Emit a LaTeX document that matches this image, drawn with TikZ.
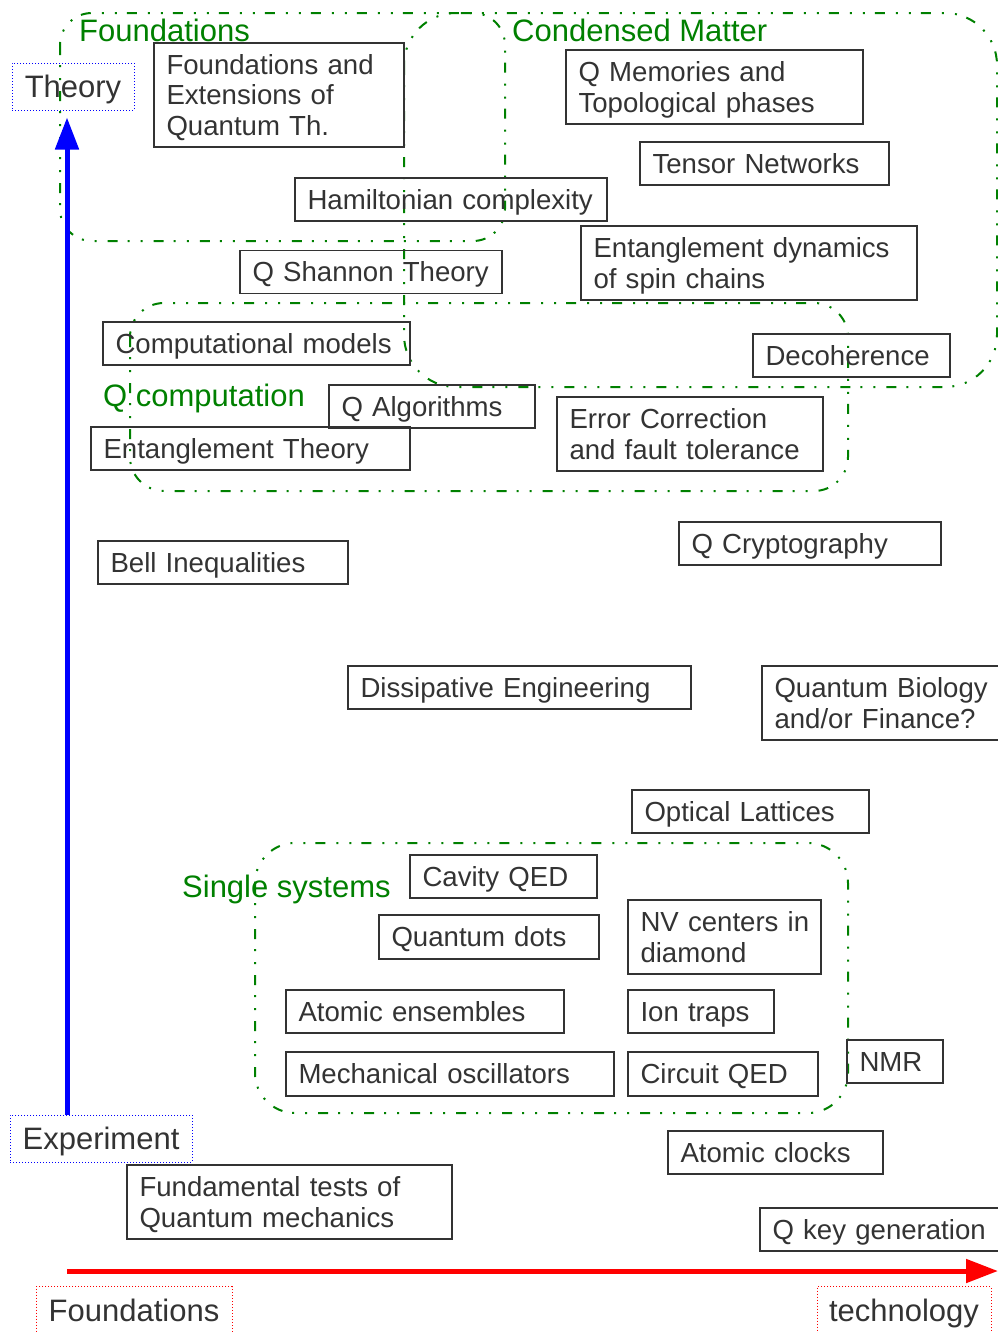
\documentclass[tikz,border=0pt]{standalone}
\usepackage{fontspec}
\setmainfont{Liberation Sans}
\usetikzlibrary{arrows.meta}

\definecolor{txtgray}{HTML}{333333}
\definecolor{grpgreen}{HTML}{008000}

\tikzset{
    box/.style={draw=txtgray, line width=1.2pt, text=txtgray, rectangle, align=left,
        text width=#1, inner xsep=12.5pt, inner ysep=0pt, minimum height=43pt,
        font=\fontsize{27.6pt}{30.7pt}\selectfont, text height=19.8pt, text depth=0pt},
    twolines/.style={minimum height=74pt, text depth=30.7pt},
    threelines/.style={minimum height=104pt, text depth=61.4pt},
    region/.style={draw=grpgreen, line width=2pt,
        dash pattern=on 10pt off 10pt on 2pt off 11pt on 2pt off 11pt},
    grplabel/.style={text=grpgreen, anchor=base west, inner sep=0pt,
        font=\fontsize{31pt}{34pt}\selectfont},
    axlabel/.style={text=txtgray, line width=1pt, dash pattern=on 1pt off 2pt,
        inner sep=0pt, minimum height=47pt, text height=22.2pt, text depth=0pt,
        font=\fontsize{31pt}{34pt}\selectfont},
    axarrow/.style={line width=5pt, -{Triangle[length=32pt,width=23pt]}}
}

\begin{document}
\begin{tikzpicture}[x=1pt, y=-1pt]
\path[use as bounding box, clip] (0,0) rectangle (998,1333);

\draw[region, rounded corners=32pt] (60,13) rectangle (505,241);
\draw[region, rounded corners=52pt] (404,13) rectangle (997,387);
\draw[region, rounded corners=34pt] (130,303) rectangle (848,491);
\draw[region, rounded corners=40pt] (255,843) rectangle (848,1113);

\node[grplabel] (lblfound) at (79,41) {Foundations};
\node[grplabel] (lblcond) at (512,41) {Condensed Matter};
\node[grplabel] (lblcomp) at (103,406) {Q computation};
\node[grplabel] (lblsingle) at (182,897) {Single systems};

\node[box=225pt, threelines] (found) at (279,95) {Foundations and\\Extensions of\\Quantum Th.};
\node[box=287pt] (hamil) at (451,199.5) {Hamiltonian complexity};
\node[box=237pt] (shannon) at (371,272) {Q Shannon Theory};
\node[box=272pt, twolines] (memories) at (714.5,87) {Q Memories and\\Topological phases};
\node[box=224pt] (tensor) at (764.5,163.5) {Tensor Networks};
\node[box=311pt, twolines] (entdyn) at (749,263) {Entanglement dynamics\\of spin chains};
\node[box=282pt] (compmod) at (256.5,343.5) {Computational models};
\node[box=172pt] (decoh) at (851.5,355.5) {Decoherence};
\node[box=181pt] (qalgo) at (432,406.5) {Q Algorithms};
\node[box=294pt] (entth) at (250.5,448.5) {Entanglement Theory};
\node[box=241pt, twolines] (errcorr) at (690,434) {Error Correction\\and fault tolerance};
\node[box=237pt] (crypto) at (810,543.5) {Q Cryptography};
\node[box=225pt] (bell) at (223,562.5) {Bell Inequalities};
\node[box=318pt] (dissip) at (519.5,687.5) {Dissipative Engineering};
\node[box=225pt, twolines] (biology) at (887,703) {Quantum Biology\\and/or Finance?};
\node[box=212pt] (optlat) at (750.5,811.5) {Optical Lattices};
\node[box=162pt] (cavity) at (503.5,876.5) {Cavity QED};
\node[box=195pt, minimum height=44pt] (qdots) at (489,937) {Quantum dots};
\node[box=168pt, twolines] (nv) at (724.5,937) {\mbox{NV centers in}\\diamond};
\node[box=253pt] (atomens) at (425,1011.5) {Atomic ensembles};
\node[box=121pt] (iontraps) at (701,1011.5) {Ion traps};
\node[box=303pt, minimum height=44pt] (mechosc) at (450,1074) {Mechanical oscillators};
\node[box=165pt, minimum height=44pt] (circuit) at (723,1074) {Circuit QED};
\node[box=71pt] (nmr) at (895,1061.5) {NMR};
\node[box=190pt] (clocks) at (775.5,1152.5) {Atomic clocks};
\node[box=300pt, twolines] (fundtests) at (289.5,1202) {Fundamental tests of\\Quantum mechanics};
\node[box=227pt] (keygen) at (886,1229.5) {Q key generation};

\node[axlabel, draw=blue, minimum width=122pt] (theory) at (73,86.5) {Theory};
\node[axlabel, draw=blue, minimum width=182pt] (experiment) at (101,1138.5) {Experiment};
\node[axlabel, draw=red, minimum width=196pt] (foundations) at (134,1310) {Foundations};
\node[axlabel, draw=red, minimum width=174pt] (technology) at (904,1310) {technology};

\coordinate (vx) at (67,0);
\coordinate (hstart) at (67,1271);
\coordinate (hend) at (998,1271);
\draw[axarrow, blue] (experiment.north -| vx) -- ([yshift=-7pt]theory.south -| vx);
\draw[axarrow, red] (hstart) -- (hend);
\end{tikzpicture}
\end{document}
